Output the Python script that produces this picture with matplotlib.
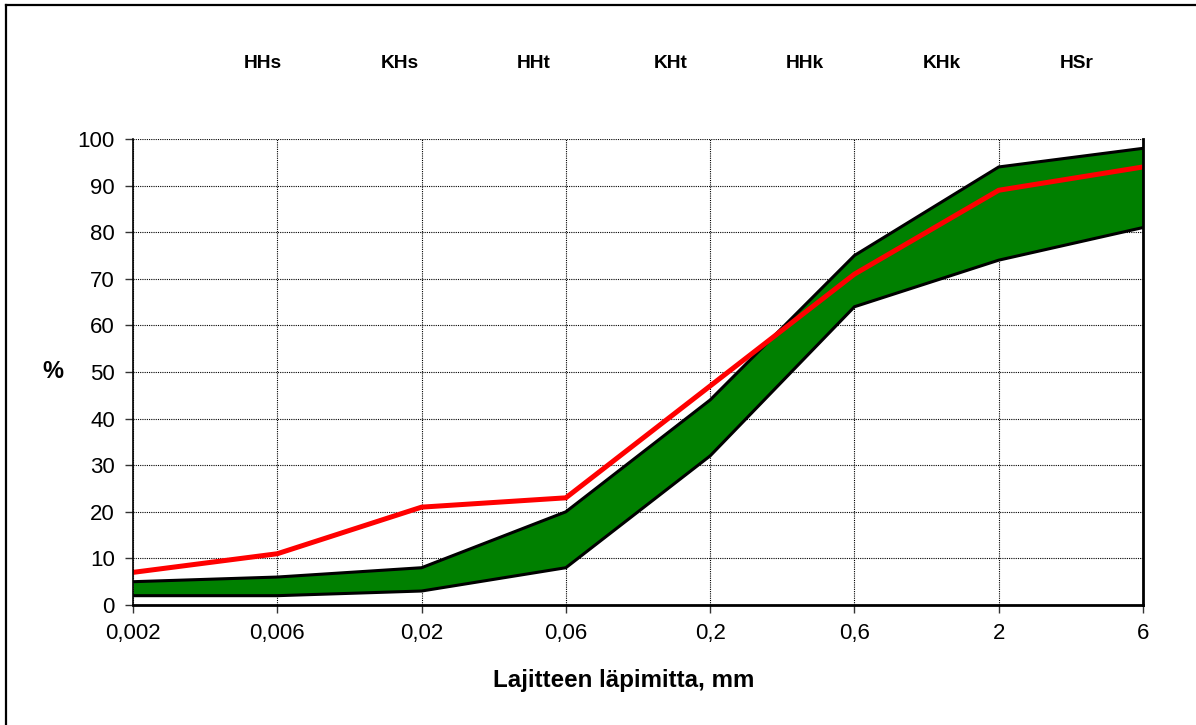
import matplotlib
matplotlib.use("Agg")
import matplotlib.pyplot as plt
from matplotlib.lines import Line2D
import numpy as np

plt.rcParams['font.family'] = ['Liberation Sans', 'DejaVu Sans']

# ---- data ----
sizes = ["0,002", "0,006", "0,02", "0,06", "0,2", "0,6", "2", "6"]
upper = [5, 6, 8, 20, 44, 75, 94, 98]
lower = [2, 2, 3, 8, 32, 64, 74, 81]
sample = [7, 11, 21, 23, 47, 71, 89, 94]
fractions = ["HHs", "KHs", "HHt", "KHt", "HHk", "KHk", "HSr"]
yticks = list(range(0, 101, 10))

# layout: horizontal positions of the fraction labels (axes fraction)
frac_pos = [0.1287, 0.2644, 0.3970, 0.5327, 0.6653, 0.8010, 0.9347]

fig = plt.figure(figsize=(11.96, 7.25), dpi=100)
ax = fig.add_axes([133/1196, 1-605/725, (1143-133)/1196, (605-139)/725])

x = np.arange(len(sizes))
ax.fill_between(x, lower, upper, color="#008000", linewidth=0, zorder=2)
ax.plot(x, upper, color="black", lw=2.2, zorder=3, solid_joinstyle="miter")
ax.plot(x, lower, color="black", lw=2.2, zorder=3, solid_joinstyle="miter")
ax.plot(x, sample, color="#ff0000", lw=3.6, zorder=4, solid_joinstyle="miter")

ax.set_xlim(0, len(sizes)-1)
ax.set_ylim(0, 100)
ax.set_xticks(x)
ax.set_xticklabels(sizes, fontsize=16)
ax.set_yticks(yticks)
ax.set_yticklabels([str(v) for v in yticks], fontsize=16)
ax.tick_params(axis="both", direction="out", length=6, width=1, color="#333333", pad=7)

ax.grid(True, which="major", color="black", linestyle=(0, (1, 1)), linewidth=0.8, zorder=1)
ax.set_axisbelow(True)

for s in ["left", "bottom", "right"]:
    ax.spines[s].set_color("black")
    ax.spines[s].set_zorder(5)
ax.spines["left"].set_linewidth(1.2)
ax.spines["bottom"].set_linewidth(2.0)
ax.spines["right"].set_linewidth(2.0)
ax.spines["top"].set_visible(False)

fig.text(624/1196, 1-680/725, "Lajitteen läpimitta, mm", fontsize=17.4, fontweight="bold",
         ha="center", va="center")
fig.text(53/1196, 1-372/725, "%", fontsize=17, fontweight="bold", ha="center", va="center")

for lab, px in zip(fractions, frac_pos):
    fx = (133 + px*(1143-133))/1196
    fig.text(fx, 1-64/725, lab, fontsize=13.8, fontweight="bold", ha="center", va="center")

# outer chart frame (extends past right/bottom edge of image)
fig.add_artist(Line2D([6/1196, 1.0], [1-5/725, 1-5/725], transform=fig.transFigure, color="black", lw=1.6))
fig.add_artist(Line2D([6/1196, 6/1196], [0.0, 1-5/725], transform=fig.transFigure, color="black", lw=1.6))

fig.savefig("out.png", dpi=100, facecolor="white")
